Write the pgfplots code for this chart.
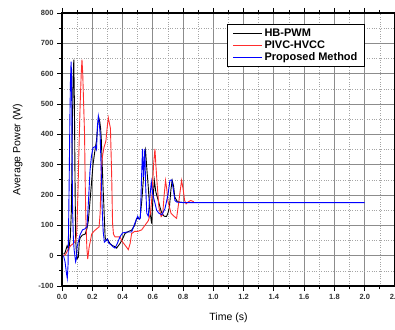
\documentclass[border=0pt]{standalone}
\usepackage{pgfplots}
\pgfplotsset{compat=1.18}
\usepackage{fontspec}
\setmainfont{Liberation Sans}
\definecolor{lred}{RGB}{255,45,45}
\definecolor{majgrid}{RGB}{140,140,140}
\definecolor{mingrid}{RGB}{165,165,165}
\definecolor{tlab}{RGB}{50,50,50}
\pgfplotsset{
  every axis legend/.append style={draw=black, line width=1.2pt, fill=white},
  legend image code/.code={\draw[mark repeat=2,mark phase=2,#1] plot coordinates {(0pt,0pt) (14.5pt,0pt) (29pt,0pt)};},
}
\begin{document}
\begin{tikzpicture}[x=1pt,y=1pt]
\begin{axis}[
  at={(62pt,43pt)}, anchor=south west,
  scale only axis, width=333pt, height=273pt,
  xmin=0, xmax=2.2, ymin=-100, ymax=800,
  xtick distance=0.2, ytick distance=100,
  minor x tick num=1, minor y tick num=1,
  grid=both,
  major grid style={majgrid, line width=1pt},
  minor grid style={mingrid, dotted, line width=0.6pt},
  axis line style={black, line width=1.1pt},
  tick style={black, line width=0.9pt},
  tick align=outside,
  major tick length=5pt, minor tick length=3pt,
  /pgf/number format/assume math mode=true,
  xticklabel style={/pgf/number format/.cd, fixed, fixed zerofill, precision=1},
  yticklabel style={/pgf/number format/.cd, fixed, precision=0},
  ticklabel style={font=\fontsize{7.5}{8}\selectfont\bfseries, text=tlab},
  xlabel={Time (s)}, ylabel={Average Power (W)},
  label style={font=\fontsize{10.5}{12}\selectfont},
  xlabel style={yshift=-6pt},
  ylabel style={yshift=9pt},
  legend style={at={(rel axis cs:0.91,0.96)}, anchor=north east,
    font=\fontsize{11}{12}\selectfont\bfseries,
    row sep=-1pt, inner xsep=5pt, inner ysep=2pt},
  legend cell align=left,
]
\addplot[color=black, line width=0.9pt] coordinates {
(0.010,5) (0.020,10) (0.034,33) (0.045,20) (0.055,60) (0.062,150) (0.068,400) (0.073,580) (0.078,646) (0.082,500) (0.086,250) (0.090,60) (0.095,10) (0.100,-10) (0.108,-5) (0.115,50) (0.121,60) (0.135,68) (0.153,71) (0.165,90) (0.174,115) (0.185,180) (0.196,246) (0.205,300) (0.217,345) (0.228,380) (0.236,430) (0.243,455) (0.250,440) (0.255,420) (0.260,380) (0.264,323) (0.270,240) (0.277,159) (0.285,60) (0.292,50) (0.300,55) (0.317,40) (0.334,33) (0.350,30) (0.361,25) (0.383,40) (0.400,55) (0.416,73) (0.440,80) (0.460,84) (0.480,100) (0.493,122) (0.515,122) (0.527,180) (0.537,248) (0.545,320) (0.552,346) (0.560,290) (0.570,226) (0.580,150) (0.592,106) (0.600,180) (0.610,248) (0.620,210) (0.636,182) (0.650,155) (0.660,140) (0.675,130) (0.690,129) (0.700,140) (0.710,162) (0.720,220) (0.728,248) (0.737,230) (0.745,193) (0.760,180) (0.780,176) (0.800,175)
};
\addlegendentry{HB-PWM}
\addplot[color=lred, line width=0.9pt] coordinates {
(0.010,0) (0.025,5) (0.040,20) (0.057,33) (0.075,40) (0.090,49) (0.097,74) (0.105,200) (0.112,350) (0.120,500) (0.127,600) (0.132,646) (0.137,600) (0.143,500) (0.149,400) (0.153,250) (0.157,137) (0.164,27) (0.170,-11) (0.175,10) (0.179,27) (0.188,50) (0.196,71) (0.210,80) (0.228,88) (0.245,95) (0.252,140) (0.260,290) (0.268,330) (0.277,356) (0.290,378) (0.298,420) (0.306,455) (0.312,440) (0.320,420) (0.328,268) (0.334,107) (0.340,71) (0.350,62) (0.383,62) (0.400,45) (0.416,35) (0.438,20) (0.450,40) (0.460,73) (0.480,80) (0.500,80) (0.526,85) (0.548,100) (0.570,115) (0.585,140) (0.595,200) (0.605,300) (0.614,352) (0.620,300) (0.628,240) (0.640,160) (0.655,129) (0.665,135) (0.675,200) (0.684,248) (0.692,220) (0.700,180) (0.720,140) (0.740,130) (0.757,123) (0.770,171) (0.780,210) (0.790,248) (0.800,220) (0.810,182) (0.820,171) (0.830,176) (0.850,182) (0.870,178)
};
\addlegendentry{PIVC-HVCC}
\addplot[color=blue, line width=0.9pt] coordinates {
(0.010,0) (0.020,-20) (0.030,-60) (0.035,-75) (0.040,-30) (0.045,150) (0.048,270) (0.052,450) (0.056,580) (0.060,640) (0.063,600) (0.066,350) (0.070,150) (0.075,60) (0.080,20) (0.090,-20) (0.095,-10) (0.100,30) (0.110,50) (0.120,70) (0.135,85) (0.150,88) (0.165,95) (0.175,180) (0.185,280) (0.195,330) (0.205,356) (0.220,360) (0.228,350) (0.234,427) (0.240,460) (0.246,440) (0.252,400) (0.258,300) (0.265,160) (0.272,80) (0.280,45) (0.290,50) (0.300,55) (0.310,40) (0.320,38) (0.335,30) (0.350,25) (0.365,40) (0.383,62) (0.400,75) (0.430,78) (0.460,78) (0.480,105) (0.500,130) (0.510,120) (0.518,125) (0.525,250) (0.532,352) (0.538,260) (0.542,300) (0.547,352) (0.552,240) (0.560,140) (0.570,130) (0.580,190) (0.590,243) (0.600,200) (0.610,182) (0.625,150) (0.640,140) (0.660,135) (0.680,155) (0.700,200) (0.713,248) (0.725,250) (0.735,220) (0.746,182) (0.760,176) (0.780,176) (0.800,175) (2.000,175)
};
\addlegendentry{Proposed Method}
\end{axis}
\pgfresetboundingbox
\useasboundingbox (0pt,0pt) rectangle (395pt,329pt);
\end{tikzpicture}
\end{document}
